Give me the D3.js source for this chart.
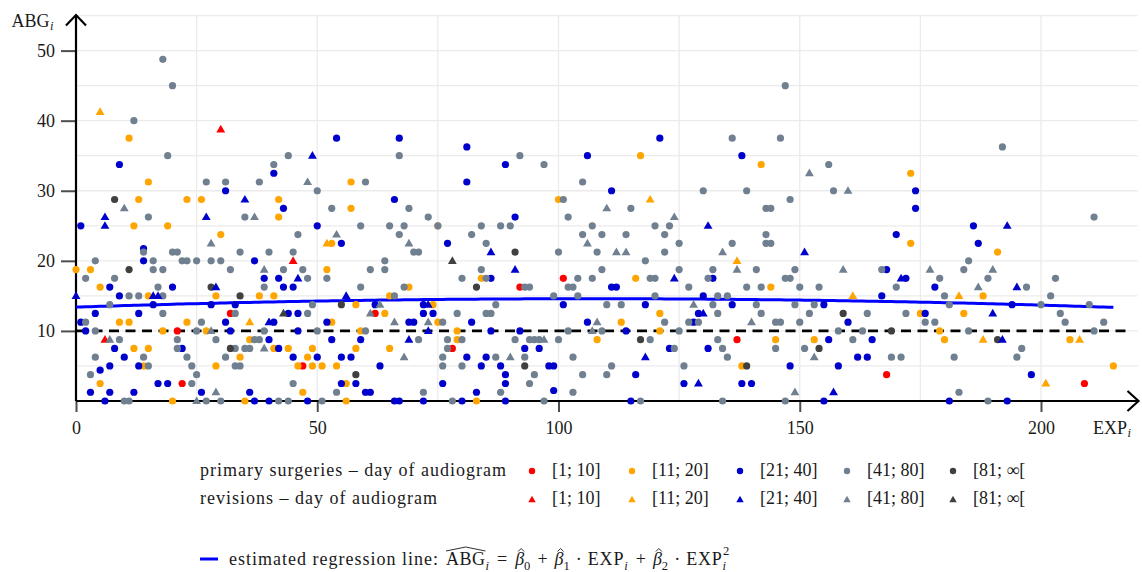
<!DOCTYPE html>
<html><head><meta charset="utf-8">
<script src="https://cdn.jsdelivr.net/npm/d3@7"></script>
<style>
body{margin:0;background:#fff}
svg{display:block}
text{font-family:"Liberation Serif","DejaVu Serif",serif;fill:#1a1a1a}
</style>
</head><body>
<svg id="chart" width="1142" height="572" font-family="Liberation Serif, DejaVu Serif, serif"></svg>
<script>
// ---------- data ----------
const dayClasses = ["[1; 10]", "[11; 20]", "[21; 40]", "[41; 80]", "[81; ∞["];
const groupLabels = ["primary surgeries – day of audiogram", "revisions – day of audiogram"];
const xTicks = [0, 50, 100, 150, 200];
const yTicks = [10, 20, 30, 40, 50];
const referenceLevel = 10;
const regressionCoef = [13.4, 0.0224, -0.000105];   // beta0, beta1, beta2
const regressionRange = [0, 215];

const primary_1_10 = [[32,12.5],[21,10],[47,5],[22,2.5],[101,17.5],[92,16.25],[62,12.5],[78,7.5],[137,8.75],[168,3.75],[209,2.5]];
const revision_1_10 = [[30,38.75],[45,20],[6,8.75]];

const primary_11_20 = [[11,37.5],[15,31.25],[13,28.75],[23,28.75],[26,28.75],[42,28.75],[57,31.25],[57,27.5],[100,28.75],[117,35],[142,33.75],[173,32.5],[42,26.25],[12,25],[19,25],[30,23.75],[0,18.75],[3,18.75],[52,18.75],[5,16.25],[15,15],[29,15],[38,15],[41,15],[9,11.25],[11,11.25],[23,11.25],[18,10],[27,10],[36,8.75],[12,7.5],[15,7.5],[41,7.5],[44,7.5],[49,7.5],[34,6.25],[48,6.25],[14,5],[29,5],[46,5],[49,5],[51,5],[5,2.5],[47,1.25],[20,0],[35,0],[75,25],[53,22.5],[84,17.5],[69,16.25],[65,15],[58,13.75],[74,13.75],[64,12.5],[53,11.25],[75,11.25],[59,10],[79,10],[79,8.75],[58,7.5],[65,7.5],[54,5],[56,2.5],[56,0],[83,0],[116,17.5],[144,16.25],[121,12.5],[113,11.25],[121,10],[108,8.75],[145,8.75],[153,8.75],[138,5],[173,22.5],[191,21.25],[188,15],[175,12.5],[184,12.5],[179,10],[180,8.75],[206,8.75],[215,5]];
const revision_11_20 = [[5,41.25],[119,28.75],[52,22.5],[36,11.25],[137,20],[161,15],[183,15],[188,8.75],[208,8.75],[201,2.5]];

const primary_21_40 = [[9,33.75],[41,32.5],[31,30],[43,27.5],[54,37.5],[67,37.5],[81,36.25],[89,33.75],[106,35],[81,31.25],[66,28.75],[121,37.5],[138,35],[111,30],[174,30],[174,27.5],[1,25],[50,25],[14,21.75],[14,20],[37,20],[39,17.5],[42,17.5],[7,16.25],[20,16.25],[43,16.25],[45,16.25],[9,15],[16,13.75],[28,13.75],[33,13.75],[4,12.5],[13,12.5],[44,12.5],[46,12.5],[1,11.25],[31,11.25],[41,11.25],[52,11.25],[2,10],[32,10],[46,10],[40,8.75],[8,7.5],[22,7.5],[42,7.5],[10,6.25],[45,6.25],[50,6.25],[7,5],[13,5],[5,4.4],[17,2.5],[19,2.5],[3,1.25],[7,1.25],[12,1.25],[26,1.25],[36,1.25],[6,0],[37,0],[40,0],[48,0],[91,26.25],[55,22.5],[77,22.5],[86,17.5],[62,13.75],[72,13.75],[101,13.75],[72,12.5],[74,12.5],[69,11.25],[70,11.25],[82,11.25],[106,11.25],[86,10],[92,10],[53,8.75],[59,8.75],[93,7.5],[96,7.5],[55,6.25],[57,6.25],[81,6.25],[85,6.25],[63,5],[84,5],[88,5],[98,5],[99,5],[89,3.75],[55,2.5],[58,2.5],[76,2.5],[89,2.5],[99,1.5],[60,1.25],[61,1.25],[83,1.25],[66,0],[67,0],[72,0],[80,0],[89,0],[132,17.5],[111,16.25],[112,16.25],[130,15],[118,13.75],[136,13.75],[155,13.75],[129,12.5],[128,11.25],[160,11.25],[114,10],[156,8.75],[123,7.5],[131,7.5],[148,5],[158,5],[116,3.75],[126,2.5],[138,2.5],[140,2.5],[115,0],[155,0],[186,25],[170,23.75],[187,22.5],[168,18.75],[172,17.5],[178,16.25],[167,15],[194,13.75],[176,12.5],[165,8.75],[162,6.25],[164,6.25],[198,3.75],[181,0],[193,0]];
const revision_21_40 = [[49,35],[35,28.75],[6,26.25],[6,25],[27,26.25],[46,17.5],[29,16.25],[0,15],[16,15],[17,15],[40,11.25],[86,21.25],[91,18.75],[56,15],[73,13.75],[73,10],[69,8.75],[131,25],[151,21.25],[124,17.5],[130,12.5],[118,6.25],[129,2.5],[157,1.25],[193,25],[171,17.5],[195,16.25],[190,12.5],[192,8.75]];

const primary_41_80 = [[18,48.75],[20,45],[12,40],[19,35],[27,31.25],[31,31.25],[38,31.25],[41,33.75],[44,35],[50,30],[53,27.5],[67,35],[92,35],[97,33.75],[60,31.25],[69,27.5],[101,28.75],[105,31.25],[147,45],[136,37.5],[146,37.5],[156,33.75],[130,30],[139,30],[157,30],[148,28.75],[115,27.5],[143,27.5],[144,27.5],[192,36.25],[15,26.25],[35,26.25],[46,23.75],[14,21.25],[20,21.25],[21,21.25],[34,21.25],[40,21.25],[45,21.25],[16,20],[22,20],[23,20],[25,20],[28,20],[30,20],[4,20],[16,18.75],[18,18.75],[32,18.75],[43,18.75],[47,18.75],[2,17.5],[8,17.5],[48,17.5],[52,17.5],[17,16.25],[39,16.25],[11,15],[13,15],[18,15],[7,13.75],[49,13.75],[18,12.5],[33,12.5],[48,12.5],[2,11.25],[26,11.25],[4,10],[25,10],[39,10],[50,10],[9,8.75],[21,8.75],[29,8.75],[37,8.75],[38,8.75],[21,7.5],[33,7.5],[35,7.5],[36,7.5],[4,6.25],[14,6.25],[23,6.25],[31,6.25],[15,5],[24,5],[33,5],[34,5],[3,3.75],[25,3.75],[24,2.5],[45,2.5],[10,0],[11,0],[27,0],[30,0],[42,0],[44,0],[51,0],[73,26.25],[102,26.25],[59,25],[65,25],[68,25],[75,25],[84,25],[88,25],[90,25],[67,23.75],[82,23.75],[105,23.75],[85,22.5],[70,21.25],[71,21.25],[100,21.25],[64,20],[61,18.75],[64,18.75],[84,18.75],[80,17.5],[85,17.5],[104,17.5],[59,16.25],[68,16.25],[93,16.25],[94,16.25],[102,16.25],[103,16.25],[66,15],[99,15],[104,15],[87,13.75],[79,12.5],[85,12.5],[86,12.5],[76,11.25],[60,10],[102,10],[71,8.75],[77,8.75],[80,8.75],[91,8.75],[94,8.75],[95,8.75],[96,8.75],[100,8.75],[77,7.5],[76,6.25],[87,6.25],[93,6.25],[103,6.25],[76,5],[80,5],[95,3.75],[105,3.75],[94,2.5],[54,1.25],[72,1.25],[88,1.25],[103,1.25],[78,0],[97,0],[107,25],[120,25],[123,25],[109,23.75],[114,23.75],[122,23.75],[143,23.75],[125,22.5],[136,22.5],[143,22.5],[144,22.5],[108,21.25],[122,21.25],[118,20],[109,18.75],[125,18.75],[132,18.75],[141,18.75],[149,18.75],[107,17.5],[119,17.5],[120,17.5],[131,17.5],[147,17.5],[148,17.5],[127,16.25],[139,16.25],[142,16.25],[150,16.25],[154,16.25],[120,15],[133,15],[135,15],[110,13.75],[113,13.75],[132,13.75],[141,13.75],[149,13.75],[153,13.75],[133,12.5],[142,12.5],[152,12.5],[122,11.25],[127,11.25],[129,11.25],[145,11.25],[146,11.25],[150,11.25],[109,10],[125,10],[158,10],[119,8.75],[133,8.75],[124,7.5],[134,7.5],[145,7.5],[151,7.5],[135,6.25],[111,5],[126,5],[110,3.75],[117,0],[134,0],[147,0],[211,26.25],[185,20],[167,18.75],[184,18.75],[179,17.5],[189,17.5],[203,17.5],[170,16.25],[197,16.25],[180,15],[202,15],[181,13.75],[200,13.75],[210,13.75],[164,12.5],[172,12.5],[204,12.5],[176,11.25],[178,11.25],[205,11.25],[213,11.25],[163,10],[185,10],[211,10],[161,8.75],[196,7.5],[169,6.25],[171,6.25],[182,6.25],[195,6.25],[183,1.25],[189,0]];
const revision_41_80 = [[48,31.25],[10,27.5],[152,32.5],[160,30],[110,27.5],[37,26.25],[28,22.5],[39,18.75],[28,10],[7,8.75],[39,7.5],[29,1.25],[25,0],[54,23.75],[69,22.5],[106,22.5],[63,13.75],[61,12.5],[66,11.25],[73,11.25],[97,8.75],[68,6.25],[90,6.25],[124,26.25],[112,21.25],[114,21.25],[134,21.25],[137,18.75],[159,18.75],[128,13.75],[108,11.25],[140,11.25],[107,10],[153,6.25],[149,1.25],[177,18.75],[190,18.75],[187,16.25]];

const primary_81_inf = [[8,28.75],[11,18.75],[28,16.25],[34,15],[32,7.5],[91,21.25],[83,16.25],[55,13.75],[93,5],[58,3.75],[159,12.5],[117,8.75],[154,7.5],[139,5],[169,10],[191,8.75]];
const revision_81_inf = [[43,12.5],[78,20]];

const classColors = ["#ff0000", "#ffa500", "#0000cd", "#708090", "#404040"];

// ---------- build ----------
const series = [
  {kind:"p", cls:0, pts:primary_1_10}, {kind:"p", cls:1, pts:primary_11_20},
  {kind:"p", cls:2, pts:primary_21_40}, {kind:"p", cls:3, pts:primary_41_80},
  {kind:"p", cls:4, pts:primary_81_inf},
  {kind:"r", cls:0, pts:revision_1_10}, {kind:"r", cls:1, pts:revision_11_20},
  {kind:"r", cls:2, pts:revision_21_40}, {kind:"r", cls:3, pts:revision_41_80},
  {kind:"r", cls:4, pts:revision_81_inf}
];

const svg = d3.select("#chart");
const x = d3.scaleLinear().domain([0, 200]).range([76, 1041]);
const y = d3.scaleLinear().domain([0, 50]).range([401, 50.6]);
const xMax = 220, yMax = 55;
const FS = 18;

// grid
const grid = svg.append("g").attr("stroke", "#ebebeb").attr("stroke-width", 1.3);
grid.selectAll("line.h").data(d3.range(5, yMax + 0.1, 5)).join("line")
  .attr("x1", x(0)).attr("x2", x(xMax)).attr("y1", d => y(d)).attr("y2", d => y(d));
grid.selectAll("line.v").data(d3.range(25, xMax, 25)).join("line")
  .attr("x1", d => x(d)).attr("x2", d => x(d)).attr("y1", y(0)).attr("y2", y(yMax));

// axes with ticks
const gx = svg.append("g").attr("transform", `translate(0,${y(0)})`)
  .call(d3.axisBottom(x).tickValues(xTicks).tickSize(11).tickPadding(9).tickFormat(d3.format("d")));
const gy = svg.append("g").attr("transform", `translate(${x(0)},0)`)
  .call(d3.axisLeft(y).tickValues(yTicks).tickSize(15).tickPadding(6).tickFormat(d3.format("d")));
[gx, gy].forEach(g => {
  g.select(".domain").remove();
  g.attr("font-family", "Liberation Serif, DejaVu Serif, serif").attr("font-size", FS);
  g.selectAll(".tick line").attr("stroke", "#4d4d4d").attr("stroke-width", 2);
  g.selectAll(".tick text").attr("fill", "#1a1a1a");
});

// axis lines with arrowheads
const ax = svg.append("g").attr("stroke", "#000").attr("stroke-width", 2.2).attr("fill", "none");
ax.append("line").attr("x1", x(0)).attr("x2", x(xMax) + 1).attr("y1", y(0)).attr("y2", y(0));
ax.append("line").attr("x1", x(0)).attr("x2", x(0)).attr("y1", y(0)).attr("y2", y(yMax));
ax.append("path").attr("d", `M${x(xMax)-10},${y(0)-10} L${x(xMax)+1},${y(0)} L${x(xMax)-10},${y(0)+10}`);
ax.append("path").attr("d", `M${x(0)-10},${y(yMax)+10} L${x(0)},${y(yMax)-0.5} L${x(0)+10},${y(yMax)+10}`);

// axis titles
function mathLabel(g, x0, y0, main, sub, fs) {
  const t = g.append("text").attr("x", x0).attr("y", y0).attr("font-size", fs).text(main);
  const w = t.node().getComputedTextLength();
  g.append("text").attr("x", x0 + w + 0.5).attr("y", y0 + fs * 0.22).attr("font-size", fs * 0.7)
    .attr("font-style", "italic").text(sub);
}
mathLabel(svg, 11.5, 26.5, "ABG", "i", FS);
mathLabel(svg, 1093, 433.5, "EXP", "i", FS);

// reference line and regression curve
svg.append("line").attr("x1", x(0)).attr("x2", x(218)).attr("y1", y(referenceLevel)).attr("y2", y(referenceLevel))
  .attr("stroke", "#000").attr("stroke-width", 2.6).attr("stroke-dasharray", "10,6.5");
const reg = d => regressionCoef[0] + regressionCoef[1] * d + regressionCoef[2] * d * d;
svg.append("path").datum(d3.range(regressionRange[0], regressionRange[1] + 0.01, 1))
  .attr("fill", "none").attr("stroke", "#0000ff").attr("stroke-width", 3)
  .attr("d", d3.line().x(d => x(d)).y(d => y(reg(d))));

// points
const tri = d3.symbol(d3.symbolTriangle, 34)();
const triSmall = d3.symbol(d3.symbolTriangle, 24)();
const pg = svg.append("g");
series.forEach(s => {
  const sel = pg.append("g").attr("fill", classColors[s.cls]);
  if (s.kind === "p") {
    sel.selectAll("circle").data(s.pts).join("circle")
      .attr("cx", d => x(d[0])).attr("cy", d => y(d[1])).attr("r", 3.6);
  } else {
    sel.selectAll("path").data(s.pts).join("path").attr("d", tri)
      .attr("transform", d => `translate(${x(d[0])},${y(d[1]) + 0.5})`);
  }
});

// legend
const lg = svg.append("g");
const rowY = [471, 499];
const dotX = [532, 632, 740, 847, 953];
groupLabels.forEach((lab, r) => {
  lg.append("text").attr("x", 200).attr("y", rowY[r] + 5).attr("font-size", FS)
    .attr("letter-spacing", "1px").text(lab);
  dayClasses.forEach((c, i) => {
    if (r === 0) lg.append("circle").attr("cx", dotX[i]).attr("cy", rowY[r]).attr("r", 3.2).attr("fill", classColors[i]);
    else lg.append("path").attr("d", triSmall).attr("transform", `translate(${dotX[i]},${rowY[r] + 1})`).attr("fill", classColors[i]);
    lg.append("text").attr("x", dotX[i] + 20).attr("y", rowY[r] + 5).attr("font-size", FS).text(c);
  });
});

// regression legend row
const ry = 559;
lg.append("line").attr("x1", 200).attr("x2", 218).attr("y1", ry).attr("y2", ry)
  .attr("stroke", "#0000ff").attr("stroke-width", 3);
const pieces = [
  {t:"estimated regression line:", ls:1, after:7},
  {t:"ABG", id:"abg", ls:0.5}, {t:"i", sub:1, it:1, after:8},
  {t:"=", after:8},
  {t:"β", it:1, id:"b0"}, {t:"0", sub:1, after:7},
  {t:"+", after:7},
  {t:"β", it:1, id:"b1"}, {t:"1", sub:1, after:6},
  {t:"·", after:6}, {t:"EXP", ls:0.8}, {t:"i", sub:1, it:1, after:8},
  {t:"+", after:7},
  {t:"β", it:1, id:"b2"}, {t:"2", sub:1, after:6},
  {t:"·", after:6}, {t:"EXP", ls:0.8}, {t:"i", sub:1, it:1, id:"lasti"}, {t:"2", sup:1, back:"lasti"}
];
let cx = 229;
const pos = {};
const baseY = ry + 6;
pieces.forEach(p => {
  const size = (p.sub || p.sup) ? FS * 0.7 : FS;
  const dy = p.sub ? FS * 0.28 : p.sup ? -FS * 0.53 : 0;
  let px = cx;
  if (p.back) px = pos[p.back].x + 0.5;
  const t = lg.append("text").attr("x", px).attr("y", baseY + dy).attr("font-size", size)
    .attr("font-style", p.it ? "italic" : null).text(p.t);
  if (p.ls) t.attr("letter-spacing", p.ls + "px");
  const w = t.node().getComputedTextLength();
  if (p.id) pos[p.id] = {x: px, w: w};
  if (!p.back) cx = px + w + (p.after || 0);
});
const hat = lg.append("g").attr("fill", "none").attr("stroke", "#1a1a1a").attr("stroke-width", 0.9);
const a = pos.abg;
hat.append("path").attr("d", `M${a.x},${baseY - 14} L${a.x + a.w / 2},${baseY - 18} L${a.x + a.w},${baseY - 14}`);
["b0", "b1", "b2"].forEach(k => {
  const b = pos[k], c = b.x + b.w / 2 + 1.5;
  hat.append("path").attr("d", `M${c - 3},${baseY - 13.5} L${c},${baseY - 16.5} L${c + 3},${baseY - 13.5}`);
});
</script>
</body></html>
